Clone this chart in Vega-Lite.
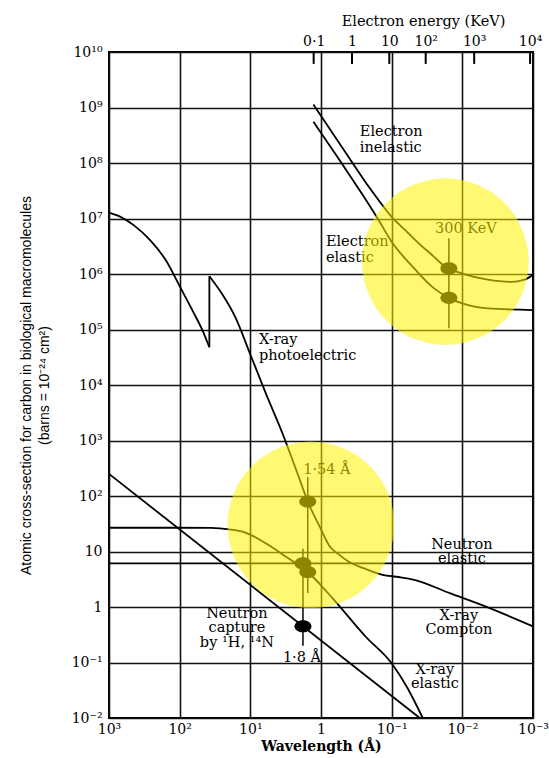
{
  "$schema": "https://vega.github.io/schema/vega-lite/v6.json",
  "width": 424,
  "height": 666,
  "autosize": {"type": "none"},
  "padding": {"left": 109, "top": 52, "right": 16, "bottom": 40},
  "background": "white",
  "config": {
    "view": {"stroke": "black", "strokeWidth": 2},
    "axis": {
      "ticks": false,
      "tickSize": 0,
      "domain": false,
      "gridColor": "#111111",
      "gridWidth": 1.6,
      "gridOpacity": 1,
      "labelFont": "DejaVu Serif",
      "labelFontSize": 14,
      "labelColor": "black",
      "titleColor": "black"
    }
  },
  "datasets": {
    "curves": [
      {"series": "electron inelastic", "i": 0, "lambda": 1.28, "sigma": 1.13e9},
      {"series": "electron inelastic", "i": 1, "lambda": 0.501, "sigma": 1.91e8},
      {"series": "electron inelastic", "i": 2, "lambda": 0.1995, "sigma": 3.39e7},
      {"series": "electron inelastic", "i": 3, "lambda": 0.1, "sigma": 1.07e7},
      {"series": "electron inelastic", "i": 4, "lambda": 0.0631, "sigma": 6.03e6},
      {"series": "electron inelastic", "i": 5, "lambda": 0.0389, "sigma": 3.31e6},
      {"series": "electron inelastic", "i": 6, "lambda": 0.0251, "sigma": 2.04e6},
      {"series": "electron inelastic", "i": 7, "lambda": 0.01995, "sigma": 1.55e6},
      {"series": "electron inelastic", "i": 8, "lambda": 0.0155, "sigma": 1.26e6},
      {"series": "electron inelastic", "i": 9, "lambda": 0.01, "sigma": 1.02e6},
      {"series": "electron inelastic", "i": 10, "lambda": 0.00437, "sigma": 7.94e5},
      {"series": "electron inelastic", "i": 11, "lambda": 0.00204, "sigma": 7.24e5},
      {"series": "electron inelastic", "i": 12, "lambda": 0.00132, "sigma": 7.94e5},
      {"series": "electron inelastic", "i": 13, "lambda": 0.001, "sigma": 9.55e5},

      {"series": "electron elastic", "i": 0, "lambda": 1.28, "sigma": 5.55e8},
      {"series": "electron elastic", "i": 1, "lambda": 0.501, "sigma": 9.55e7},
      {"series": "electron elastic", "i": 2, "lambda": 0.275, "sigma": 3.02e7},
      {"series": "electron elastic", "i": 3, "lambda": 0.158, "sigma": 1.0e7},
      {"series": "electron elastic", "i": 4, "lambda": 0.1, "sigma": 3.8e6},
      {"series": "electron elastic", "i": 5, "lambda": 0.0479, "sigma": 1.26e6},
      {"series": "electron elastic", "i": 6, "lambda": 0.0251, "sigma": 5.5e5},
      {"series": "electron elastic", "i": 7, "lambda": 0.0155, "sigma": 3.72e5},
      {"series": "electron elastic", "i": 8, "lambda": 0.01, "sigma": 2.95e5},
      {"series": "electron elastic", "i": 9, "lambda": 0.00437, "sigma": 2.4e5},
      {"series": "electron elastic", "i": 10, "lambda": 0.001, "sigma": 2.24e5},

      {"series": "x-ray photoelectric (above edge)", "i": 0, "lambda": 1000, "sigma": 1.28e7},
      {"series": "x-ray photoelectric (above edge)", "i": 1, "lambda": 687, "sigma": 1.07e7},
      {"series": "x-ray photoelectric (above edge)", "i": 2, "lambda": 448, "sigma": 7.59e6},
      {"series": "x-ray photoelectric (above edge)", "i": 3, "lambda": 262, "sigma": 4.07e6},
      {"series": "x-ray photoelectric (above edge)", "i": 4, "lambda": 153, "sigma": 1.68e6},
      {"series": "x-ray photoelectric (above edge)", "i": 5, "lambda": 100, "sigma": 6.03e5},
      {"series": "x-ray photoelectric (above edge)", "i": 6, "lambda": 65.2, "sigma": 2.15e5},
      {"series": "x-ray photoelectric (above edge)", "i": 7, "lambda": 47.2, "sigma": 9.46e4},
      {"series": "x-ray photoelectric (above edge)", "i": 8, "lambda": 38.0, "sigma": 4.79e4},

      {"series": "x-ray photoelectric + Compton", "i": 0, "lambda": 38.0, "sigma": 9.12e5},
      {"series": "x-ray photoelectric + Compton", "i": 1, "lambda": 24.8, "sigma": 4.27e5},
      {"series": "x-ray photoelectric + Compton", "i": 2, "lambda": 16.2, "sigma": 1.64e5},
      {"series": "x-ray photoelectric + Compton", "i": 3, "lambda": 10, "sigma": 3.55e4},
      {"series": "x-ray photoelectric + Compton", "i": 4, "lambda": 6.12, "sigma": 7.38e3},
      {"series": "x-ray photoelectric + Compton", "i": 5, "lambda": 3.56, "sigma": 1.41e3},
      {"series": "x-ray photoelectric + Compton", "i": 6, "lambda": 2.06, "sigma": 219},
      {"series": "x-ray photoelectric + Compton", "i": 7, "lambda": 1.54, "sigma": 79.4},
      {"series": "x-ray photoelectric + Compton", "i": 8, "lambda": 1.035, "sigma": 27.5},
      {"series": "x-ray photoelectric + Compton", "i": 9, "lambda": 0.759, "sigma": 12.6},
      {"series": "x-ray photoelectric + Compton", "i": 10, "lambda": 0.55, "sigma": 8.7},
      {"series": "x-ray photoelectric + Compton", "i": 11, "lambda": 0.398, "sigma": 6.46},
      {"series": "x-ray photoelectric + Compton", "i": 12, "lambda": 0.251, "sigma": 5.01},
      {"series": "x-ray photoelectric + Compton", "i": 13, "lambda": 0.135, "sigma": 3.8},
      {"series": "x-ray photoelectric + Compton", "i": 14, "lambda": 0.0794, "sigma": 3.47},
      {"series": "x-ray photoelectric + Compton", "i": 15, "lambda": 0.0479, "sigma": 3.09},
      {"series": "x-ray photoelectric + Compton", "i": 16, "lambda": 0.0151, "sigma": 1.78},
      {"series": "x-ray photoelectric + Compton", "i": 17, "lambda": 0.00513, "sigma": 1.07},
      {"series": "x-ray photoelectric + Compton", "i": 18, "lambda": 0.001, "sigma": 0.447},

      {"series": "x-ray elastic", "i": 0, "lambda": 1000, "sigma": 26.8},
      {"series": "x-ray elastic", "i": 1, "lambda": 100, "sigma": 26.8},
      {"series": "x-ray elastic", "i": 2, "lambda": 36.3, "sigma": 26.6},
      {"series": "x-ray elastic", "i": 3, "lambda": 19.95, "sigma": 25.1},
      {"series": "x-ray elastic", "i": 4, "lambda": 12.3, "sigma": 22.4},
      {"series": "x-ray elastic", "i": 5, "lambda": 5.89, "sigma": 13.8},
      {"series": "x-ray elastic", "i": 6, "lambda": 3.09, "sigma": 7.94},
      {"series": "x-ray elastic", "i": 7, "lambda": 1.54, "sigma": 4.27},
      {"series": "x-ray elastic", "i": 8, "lambda": 0.684, "sigma": 1.43},
      {"series": "x-ray elastic", "i": 9, "lambda": 0.231, "sigma": 0.288},
      {"series": "x-ray elastic", "i": 10, "lambda": 0.102, "sigma": 0.1},
      {"series": "x-ray elastic", "i": 11, "lambda": 0.0603, "sigma": 0.0355},
      {"series": "x-ray elastic", "i": 12, "lambda": 0.0363, "sigma": 0.01},

      {"series": "neutron elastic", "i": 0, "lambda": 1000, "sigma": 6.1},
      {"series": "neutron elastic", "i": 1, "lambda": 0.001, "sigma": 6.1},

      {"series": "neutron capture", "i": 0, "lambda": 1000, "sigma": 250},
      {"series": "neutron capture", "i": 1, "lambda": 0.04, "sigma": 0.01}
    ],
    "edge": [
      {"name": "carbon K edge", "lambda": 38.0, "sigma": 4.79e4, "sigma2": 9.12e5}
    ],
    "markers": [
      {"name": "300 KeV", "lambda": 0.0155, "sigma": 1.05e5, "sigma2": 4.4e6},
      {"name": "1.54 A", "lambda": 1.54, "sigma": 1.78, "sigma2": 218},
      {"name": "1.8 A", "lambda": 1.8, "sigma": 0.2, "sigma2": 11.2}
    ],
    "dots": [
      {"name": "electron inelastic at 300 KeV", "lambda": 0.0155, "sigma": 1.26e6},
      {"name": "electron elastic at 300 KeV", "lambda": 0.0155, "sigma": 3.72e5},
      {"name": "x-ray photoelectric at 1.54 A", "lambda": 1.54, "sigma": 79.4},
      {"name": "x-ray elastic at 1.54 A", "lambda": 1.54, "sigma": 4.27},
      {"name": "neutron elastic at 1.8 A", "lambda": 1.8, "sigma": 6.1},
      {"name": "neutron capture at 1.8 A", "lambda": 1.8, "sigma": 0.45}
    ],
    "notesLeft": [
      {"label": "Electron\ninelastic", "lambda": 0.282, "sigma": 3.58e8},
      {"label": "Electron\nelastic", "lambda": 0.853, "sigma": 3.75e6},
      {"label": "X-ray\nphotoelectric", "lambda": 7.55, "sigma": 6.46e4}
    ],
    "notesCenter": [
      {"label": "300 KeV", "lambda": 0.00891, "sigma": 6.43e6},
      {"label": "1·54 Å", "lambda": 0.826, "sigma": 295},
      {"label": "Neutron\nelastic", "lambda": 0.01016, "sigma": 13.2},
      {"label": "X-ray\nCompton", "lambda": 0.0112, "sigma": 0.695},
      {"label": "X-ray\nelastic", "lambda": 0.0245, "sigma": 0.074},
      {"label": "Neutron\ncapture\nby ¹H, ¹⁴N", "lambda": 15.5, "sigma": 0.755},
      {"label": "1·8 Å", "lambda": 1.86, "sigma": 0.122}
    ],
    "highlights": [
      {"name": "electrons", "lambda": 0.0174, "sigma": 1.67e6},
      {"name": "x-rays and neutrons", "lambda": 1.39, "sigma": 30.2}
    ],
    "energy": [
      {"keV": "0·1", "lambda": 1.27},
      {"keV": "1", "lambda": 0.364},
      {"keV": "10", "lambda": 0.108},
      {"keV": "10²", "lambda": 0.033},
      {"keV": "10³", "lambda": 0.0068},
      {"keV": "10⁴", "lambda": 0.0011}
    ]
  },
  "layer": [
    {
      "data": {"name": "curves"},
      "mark": {"type": "line", "interpolate": "monotone", "color": "black", "strokeWidth": 1.8},
      "encoding": {
        "x": {
          "field": "lambda",
          "type": "quantitative",
          "scale": {"type": "log", "domain": [0.001, 1000], "reverse": true, "nice": false},
          "axis": {
            "orient": "bottom",
            "values": [1000, 100, 10, 1, 0.1, 0.01, 0.001],
            "labelExpr": "['10⁻³','10⁻²','10⁻¹','1','10¹','10²','10³'][round(log(datum.value)/LN10)+3]",
            "grid": true,
            "labelPadding": 4,
            "labelFlush": false,
            "labelOverlap": false,
            "title": "Wavelength (Å)",
            "titleFont": "DejaVu Serif",
            "titleFontSize": 14,
            "titleFontWeight": "bold",
            "titlePadding": 3
          }
        },
        "y": {
          "field": "sigma",
          "type": "quantitative",
          "scale": {"type": "log", "domain": [0.01, 1e10], "nice": false},
          "axis": {
            "values": [0.01, 0.1, 1, 10, 100, 1000, 10000, 100000, 1000000, 10000000, 100000000, 1000000000, 10000000000],
            "labelExpr": "['10⁻²','10⁻¹','1','10','10²','10³','10⁴','10⁵','10⁶','10⁷','10⁸','10⁹','10¹⁰'][round(log(datum.value)/LN10)+2]",
            "grid": true,
            "labelPadding": 7,
            "labelFlush": false,
            "labelOverlap": false,
            "title": ["Atomic cross-section for carbon in biological macromolecules", "(barns = 10⁻²⁴ cm²)"],
            "titleFont": "Liberation Sans",
            "titleFontSize": 14,
            "titleFontWeight": "normal",
            "titleLineHeight": 18,
            "titlePadding": 20
          }
        },
        "detail": {"field": "series"},
        "order": {"field": "i", "type": "quantitative"}
      }
    },
    {
      "data": {"name": "energy"},
      "mark": {"type": "rule", "color": "black", "strokeWidth": 2},
      "encoding": {
        "x": {
          "field": "lambda",
          "type": "quantitative",
          "axis": {
            "orient": "top",
            "values": [1.27, 0.364, 0.108, 0.033, 0.0068, 0.0011],
            "labelExpr": "datum.value > 1 ? '0·1' : datum.value > 0.3 ? '1' : datum.value > 0.05 ? '10' : datum.value > 0.01 ? '10²' : datum.value > 0.003 ? '10³' : '10⁴'",
            "grid": false,
            "labelPadding": 4,
            "labelFlush": false,
            "labelOverlap": false,
            "title": "Electron energy (KeV)",
            "titleFont": "DejaVu Serif",
            "titleFontSize": 14.5,
            "titleFontWeight": "normal",
            "titleX": 314,
            "titlePadding": 6
          }
        },
        "y": {"datum": 1e10, "type": "quantitative"},
        "y2": {"datum": 6.1e9}
      }
    },
    {
      "data": {"name": "edge"},
      "mark": {"type": "rule", "color": "black", "strokeWidth": 1.8},
      "encoding": {
        "x": {"field": "lambda", "type": "quantitative", "axis": null},
        "y": {"field": "sigma", "type": "quantitative"},
        "y2": {"field": "sigma2"}
      }
    },
    {
      "data": {"name": "markers"},
      "mark": {"type": "rule", "color": "black", "strokeWidth": 1.5},
      "encoding": {
        "x": {"field": "lambda", "type": "quantitative", "axis": null},
        "y": {"field": "sigma", "type": "quantitative"},
        "y2": {"field": "sigma2"}
      }
    },
    {
      "data": {"name": "dots"},
      "mark": {
        "type": "point",
        "shape": "M -1 0 A 1 0.72 0 1 1 1 0 A 1 0.72 0 1 1 -1 0 Z",
        "size": 289,
        "filled": true,
        "color": "black",
        "opacity": 1
      },
      "encoding": {
        "x": {"field": "lambda", "type": "quantitative", "axis": null},
        "y": {"field": "sigma", "type": "quantitative"}
      }
    },
    {
      "data": {"name": "notesLeft"},
      "mark": {"type": "text", "align": "left", "baseline": "middle", "lineBreak": "\n", "lineHeight": 16, "font": "DejaVu Serif", "fontSize": 14.5, "color": "black"},
      "encoding": {
        "x": {"field": "lambda", "type": "quantitative", "axis": null},
        "y": {"field": "sigma", "type": "quantitative"},
        "text": {"field": "label"}
      }
    },
    {
      "data": {"name": "notesCenter"},
      "mark": {"type": "text", "align": "center", "baseline": "middle", "lineBreak": "\n", "lineHeight": 14.5, "font": "DejaVu Serif", "fontSize": 14.5, "color": "black"},
      "encoding": {
        "x": {"field": "lambda", "type": "quantitative", "axis": null},
        "y": {"field": "sigma", "type": "quantitative"},
        "text": {"field": "label"}
      }
    },
    {
      "data": {"name": "highlights"},
      "mark": {"type": "point", "shape": "circle", "size": 27760, "filled": true, "color": "#fff200", "opacity": 0.55, "strokeWidth": 0},
      "encoding": {
        "x": {"field": "lambda", "type": "quantitative", "axis": null},
        "y": {"field": "sigma", "type": "quantitative"}
      }
    }
  ],
  "resolve": {"axis": {"x": "independent"}}
}
